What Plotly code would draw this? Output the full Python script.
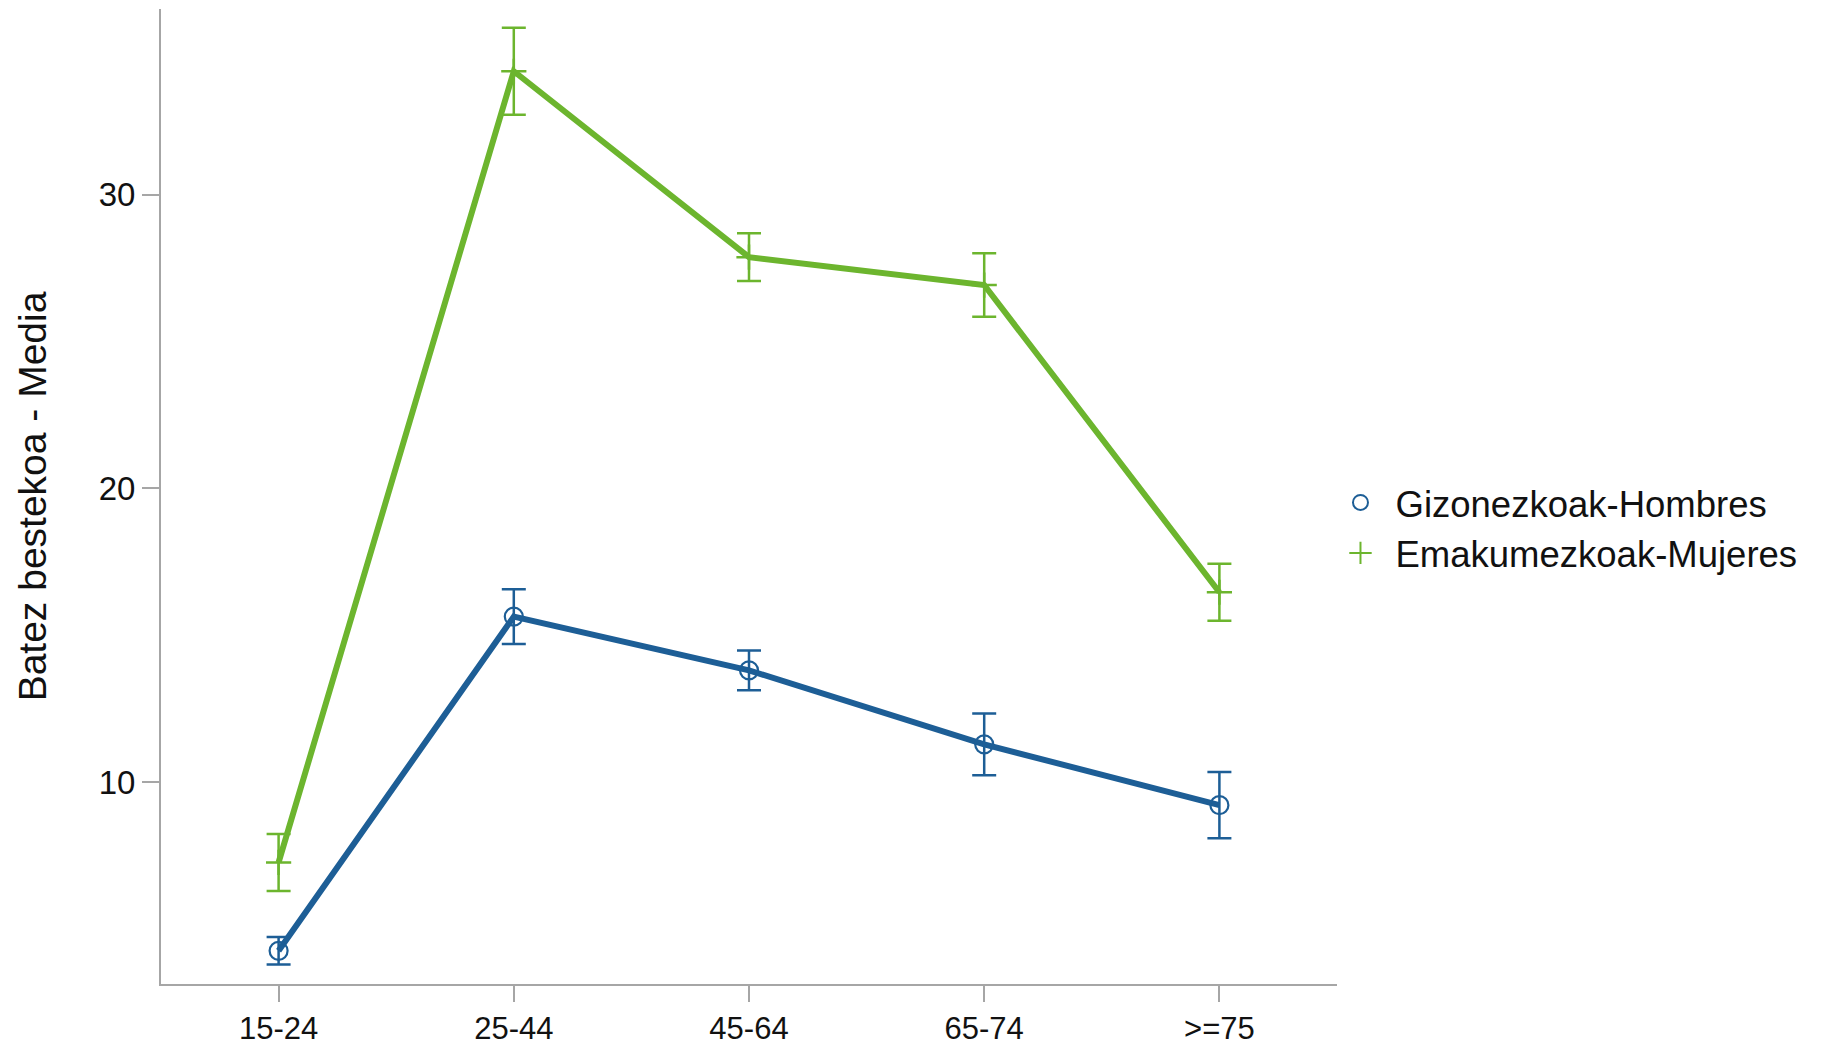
import plotly.graph_objects as go

categories = ["15-24", "25-44", "45-64", "65-74", ">=75"]
men_mean = [4.25, 15.63, 13.8, 11.28, 9.21]
men_err = [0.47, 0.93, 0.68, 1.05, 1.13]
women_mean = [7.26, 34.2, 27.87, 26.92, 16.46]
women_err = [0.97, 1.48, 0.81, 1.08, 0.97]
series_names = ["Gizonezkoak-Hombres", "Emakumezkoak-Mujeres"]
y_ticks = [10, 20, 30]
y_title = "Batez bestekoa - Media"

BLUE = "#1d5e96"
GREEN = "#6cb52e"
FONT = "Liberation Sans, Arial, sans-serif"

fig = go.Figure()

fig.add_trace(go.Scatter(
    x=categories, y=women_mean, mode="lines+markers", showlegend=False,
    line=dict(color=GREEN, width=6),
    marker=dict(symbol="cross-thin-open", size=18, color=GREEN,
                line=dict(color=GREEN, width=2.5)),
    error_y=dict(type="data", array=women_err, visible=True,
                 color=GREEN, thickness=2.5, width=12),
    hoverinfo="x+y",
))
fig.add_trace(go.Scatter(
    x=categories, y=men_mean, mode="lines+markers", showlegend=False,
    line=dict(color=BLUE, width=6),
    marker=dict(symbol="circle-open", size=18, color=BLUE,
                line=dict(color=BLUE, width=2.2)),
    error_y=dict(type="data", array=men_err, visible=True,
                 color=BLUE, thickness=2.5, width=12),
    hoverinfo="x+y",
))

# legend-only entries (marker symbol only, as in the reference)
fig.add_trace(go.Scatter(
    x=[None], y=[None], mode="markers", name=series_names[0],
    marker=dict(symbol="circle-open", size=15, color=BLUE,
                line=dict(color=BLUE, width=2)),
))
fig.add_trace(go.Scatter(
    x=[None], y=[None], mode="markers", name=series_names[1],
    marker=dict(symbol="cross-thin-open", size=16, color=GREEN,
                line=dict(color=GREEN, width=2)),
))

axis_color = "#a6a6a6"
fig.update_layout(
    width=1843, height=1047,
    paper_bgcolor="white", plot_bgcolor="white",
    margin=dict(l=161, r=506, t=9, b=63, autoexpand=False),
    font=dict(family=FONT, color="#111111"),
    xaxis=dict(
        type="category", categoryorder="array", categoryarray=categories,
        range=[-0.5, 4.5], showgrid=False, zeroline=False,
        showline=True, linecolor=axis_color, linewidth=2,
        ticks="outside", ticklen=16, tickwidth=2, tickcolor=axis_color,
        tickfont=dict(size=31, family=FONT, color="#111111"),
        automargin=False,
    ),
    yaxis=dict(
        range=[3.12, 36.32], tickvals=y_ticks, showgrid=False, zeroline=False,
        showline=True, linecolor=axis_color, linewidth=2,
        ticks="outside", ticklen=17, tickwidth=2, tickcolor=axis_color,
        tickfont=dict(size=33, family=FONT, color="#111111"),
        title=dict(text=y_title, font=dict(size=39, family=FONT, color="#111111"),
                   standoff=40),
        automargin=False,
    ),
    legend=dict(
        x=0.7192, xref="container", xanchor="left",
        y=0.468, yanchor="middle",
        font=dict(size=36.5, family=FONT, color="#111111"),
        bgcolor="rgba(0,0,0,0)", itemwidth=60,
    ),
)

fig.write_html("out.html", config={"displayModeBar": False},
               post_script="document.body.style.margin='0';")
